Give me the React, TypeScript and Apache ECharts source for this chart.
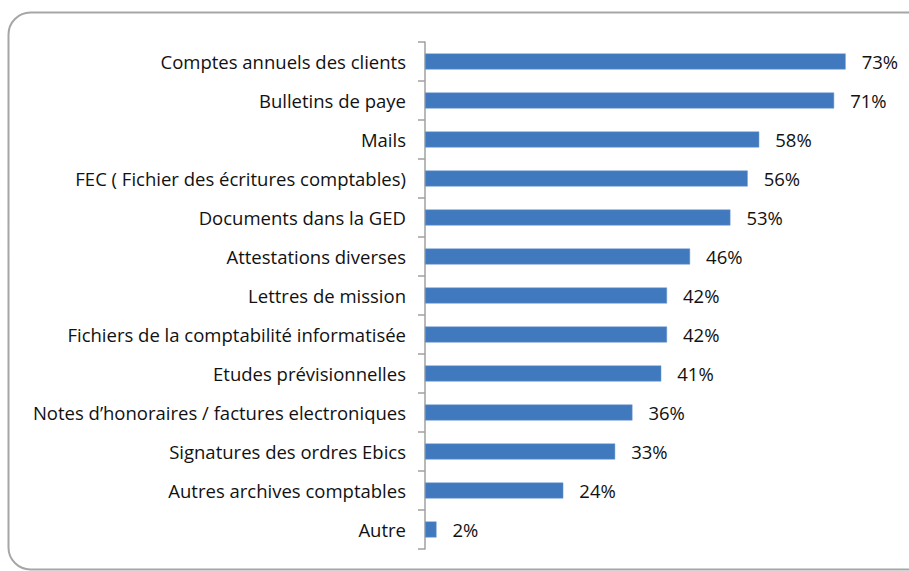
import React, { useEffect, useRef } from "react";
import * as echarts from "echarts";

const categories = [
  "Comptes annuels des clients",
  "Bulletins de paye",
  "Mails",
  "FEC ( Fichier des écritures comptables)",
  "Documents dans la GED",
  "Attestations diverses",
  "Lettres de mission",
  "Fichiers de la comptabilité informatisée",
  "Etudes prévisionnelles",
  "Notes d’honoraires / factures electroniques",
  "Signatures des ordres Ebics",
  "Autres archives comptables",
  "Autre",
];
const values = [73, 71, 58, 56, 53, 46, 42, 42, 41, 36, 33, 24, 2];

export default function App() {
  const ref = useRef<HTMLDivElement>(null);
  useEffect(() => {
    const chart = echarts.init(ref.current!, null, { renderer: "svg" });
    chart.setOption({
      animation: false,
      backgroundColor: "#ffffff",
      graphic: [
        {
          type: "rect",
          shape: { x: 8.5, y: 12.5, width: 930, height: 557, r: 22 },
          style: { fill: "none", stroke: "#a6a6a6", lineWidth: 2 },
          z: -1,
        },
      ],
      grid: { left: 425, top: 42, bottom: 22, right: 23 },
      xAxis: {
        type: "value",
        min: 0,
        max: 80,
        show: false,
      },
      yAxis: {
        type: "category",
        data: categories,
        inverse: true,
        axisLine: { lineStyle: { color: "#a0a0a0", width: 1.5 } },
        axisTick: { show: true, length: 7, lineStyle: { color: "#a0a0a0", width: 1.5 } },
        axisLabel: {
          margin: 19,
          color: "#111111",
          fontFamily: "Open Sans",
          fontSize: 18.5,
        },
      },
      series: [
        {
          type: "bar",
          data: values,
          barWidth: 16,
          itemStyle: { color: "#4079be", borderColor: "#6f9ad0", borderWidth: 0.5 },
          label: {
            show: true,
            position: "right",
            distance: 16,
            formatter: "{c}%",
            color: "#111111",
            fontFamily: "Open Sans",
            fontSize: 18.5,
          },
        },
      ],
    });
    return () => chart.dispose();
  }, []);
  return (
    <div
      ref={ref}
      style={{ position: "fixed", left: 0, top: 0, width: 909, height: 571 }}
    />
  );
}
